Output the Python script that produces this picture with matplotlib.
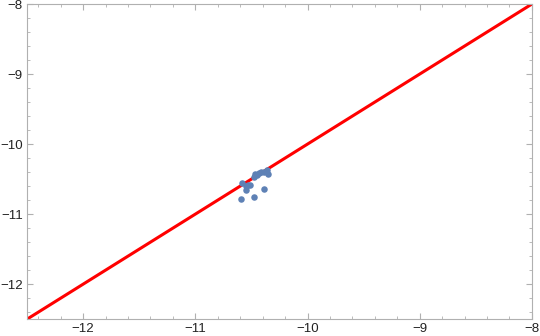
import numpy as np
import matplotlib.pyplot as plt
from matplotlib.ticker import MultipleLocator

# scatter points
xs = [-10.59, -10.48, -10.39, -10.58, -10.55, -10.51, -10.45, -10.36,
      -10.35, -10.41, -10.48, -10.55, -10.43, -10.39, -10.47, -10.53]
ys = [-10.79, -10.75, -10.64, -10.56, -10.65, -10.59, -10.44, -10.37,
      -10.43, -10.40, -10.47, -10.60, -10.41, -10.40, -10.42, -10.58]

line_x = [-12.5, -8]
line_y = [-12.5, -8]

plt.rcParams['font.family'] = ['Liberation Sans', 'DejaVu Sans']

fig = plt.figure(figsize=(5.4, 3.36), dpi=100)
ax = fig.add_axes([0.05, 0.05, 0.935, 0.938])

ax.plot(line_x, line_y, color='#ff0000', lw=2.2, zorder=2, solid_capstyle='butt')
ax.scatter(xs, ys, s=22, color='#5e81b5', zorder=3, linewidths=0)

ax.set_xlim(-12.5, -8)
ax.set_ylim(-12.5, -8)

ax.xaxis.set_major_locator(MultipleLocator(1))
ax.yaxis.set_major_locator(MultipleLocator(1))
ax.xaxis.set_minor_locator(MultipleLocator(0.2))
ax.yaxis.set_minor_locator(MultipleLocator(0.2))
ax.tick_params(which='both', direction='in', top=True, right=True,
               color='#b0b0b0', labelsize=9.5, labelcolor='#222222')
ax.tick_params(which='major', length=4, width=0.8, pad=3)
ax.tick_params(which='minor', length=2, width=0.6)

fmt = lambda v, p: ('\u2212%d' % abs(v)) if v < 0 else '%d' % v
ax.xaxis.set_major_formatter(fmt)
ax.yaxis.set_major_formatter(fmt)

for s in ax.spines.values():
    s.set_color('#b0b0b0')
    s.set_linewidth(0.8)

fig.savefig('out.png', dpi=100)
